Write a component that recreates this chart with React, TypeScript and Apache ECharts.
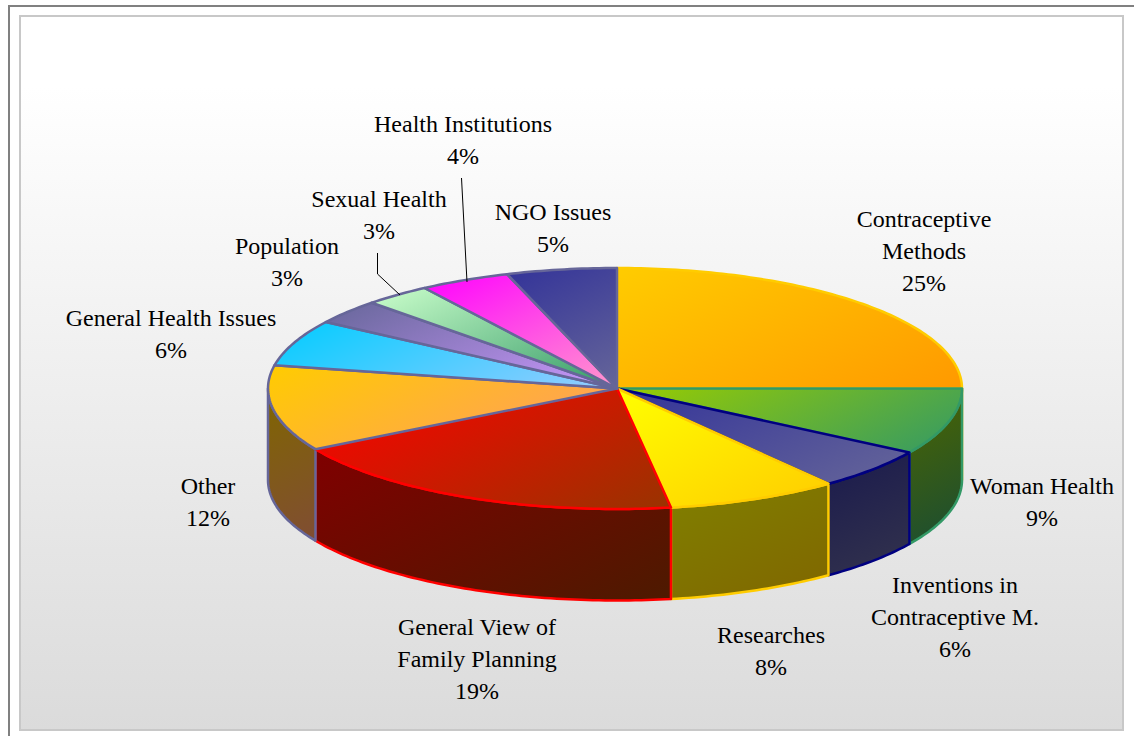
import React, { useEffect, useRef } from "react";
import * as echarts from "echarts";

const names = ["Contraceptive Methods", "Woman Health", "Inventions in Contraceptive M.", "Researches", "General View of Family Planning", "Other", "General Health Issues", "Population", "Sexual Health", "Health Institutions", "NGO Issues"];
const values = [25, 8.9, 5.6, 8.0, 19.1, 11.5, 6.2, 3.3, 3.1, 4.2, 5.1];
const labelLines = [["Contraceptive", "Methods"], ["Woman Health"], ["Inventions in", "Contraceptive M."], ["Researches"], ["General View of", "Family Planning"], ["Other"], ["General Health Issues"], ["Population"], ["Sexual Health"], ["Health Institutions"], ["NGO Issues"]];
const labelX = [924, 1042, 955, 771, 477, 208, 171, 287, 379, 463, 553];
const labelY = [219, 486, 585, 635, 627, 486, 318, 246, 199, 124, 212];
const colorFrom = ["#FFCC00", "#99CC00", "#333399", "#FFFF00", "#FF0000", "#FFCC00", "#00CCFF", "#666699", "#CCFFCC", "#FF00FF", "#333399"];
const colorTo = ["#FF9900", "#339966", "#666699", "#FFCC00", "#993300", "#FF9966", "#99CCFF", "#CC99FF", "#339966", "#FF99CC", "#666699"];
const strokes = ["#FFCC00", "#339966", "#000080", "#FFCC00", "#FF0000", "#666699", "#666699", "#666699", "#666699", "#666699", "#666699"];

const CX = 617, CY = 388.5, RX_RIGHT = 345, RX_LEFT = 349, RY = 120.5, DEPTH = 91.5;
const GRAD_SLOPE = 2;
const total = values.reduce((a, b) => a + b, 0);
const bounds = values.map((_, i) => {
  const before = values.slice(0, i).reduce((a, b) => a + b, 0);
  return [(before / total) * 360, ((before + values[i]) / total) * 360];
});
const rim = (deg: number, dy = 0): number[] => {
  const t = (deg * Math.PI) / 180;
  const s = Math.sin(t);
  return [CX + (s > 0 ? RX_RIGHT : RX_LEFT) * s, CY - RY * Math.cos(t) + dy];
};
const arc = (from: number, to: number, dy = 0): number[][] => {
  const pts: number[][] = [];
  const n = Math.max(1, Math.ceil(Math.abs(to - from)));
  for (let k = 0; k <= n; k++) pts.push(rim(from + ((to - from) * k) / n, dy));
  return pts;
};
const halve = (hex: string): string => {
  const v = parseInt(hex.slice(1), 16);
  const c = [(v >> 16) & 255, (v >> 8) & 255, v & 255].map((x) => Math.round(x * 0.5));
  return `rgb(${c[0]},${c[1]},${c[2]})`;
};
// A pixel-space gradient, steeper than 45 degrees, across the shape's bounding box.
const grad = (points: number[][], a: string, b: string) => {
  const xs = points.map((q) => q[0]);
  const ys = points.map((q) => q[1]);
  const x0 = Math.min(...xs), y0 = Math.min(...ys);
  const w = Math.max(...xs) - x0, h = Math.max(...ys) - y0;
  const reach = (w + GRAD_SLOPE * h) / (1 + GRAD_SLOPE * GRAD_SLOPE);
  return new echarts.graphic.LinearGradient(x0, y0, x0 + reach, y0 + GRAD_SLOPE * reach, [
    { offset: 0, color: a },
    { offset: 1, color: b },
  ], true);
};

export default function App() {
  const ref = useRef<HTMLDivElement>(null);
  useEffect(() => {
    const chart = echarts.init(ref.current!, undefined, { renderer: "svg" });
    const labels: any[] = [];
    names.forEach((_, i) => {
      [...labelLines[i], `${Math.round(values[i])}%`].forEach((line, k) => {
        labels.push({
          type: "text",
          x: labelX[i],
          y: labelY[i] + k * 32,
          z: 10,
          style: { text: line, align: "center", verticalAlign: "middle", fontFamily: "Liberation Serif", fontSize: 24, fill: "#000" },
        });
      });
    });
    chart.setOption({
      animation: false,
      graphic: [
        { type: "polyline", z: 0, shape: { points: [[9, 736], [9, 6], [1134, 6]] }, style: { stroke: "#808080", lineWidth: 2, fill: "none" } },
        {
          type: "rect", z: 0,
          shape: { x: 20, y: 16, width: 1103, height: 714 },
          style: {
            stroke: "#C8C8C8", lineWidth: 2,
            fill: new echarts.graphic.LinearGradient(0, 0, 0, 1, [
              { offset: 0, color: "#FFFFFF" },
              { offset: 0.1, color: "#FFFFFF" },
              { offset: 1, color: "#DBDBDB" },
            ]),
          },
        },
        { type: "polyline", z: 9, shape: { points: [[461.5, 178], [467, 282]] }, style: { stroke: "#000", lineWidth: 1, fill: "none" } },
        { type: "polyline", z: 9, shape: { points: [[377.5, 253], [377.5, 274], [400, 295]] }, style: { stroke: "#000", lineWidth: 1, fill: "none" } },
        ...labels,
      ],
      series: [
        {
          type: "custom", coordinateSystem: "none", silent: true, z: 2, clip: false,
          data: values,
          renderItem: (p: any) => {
            const i = p.dataIndex;
            const a = Math.max(bounds[i][0], 90);
            const b = Math.min(bounds[i][1], 270);
            if (a > b) return { type: "group", children: [] };
            const points = [...arc(a, b), ...arc(b, a, DEPTH)];
            return {
              type: "polygon",
              shape: { points },
              style: { fill: grad(points, halve(colorFrom[i]), halve(colorTo[i])), stroke: strokes[i], lineWidth: 2.5, lineJoin: "round" },
            };
          },
        },
        {
          type: "custom", coordinateSystem: "none", silent: true, z: 3, clip: false,
          data: values,
          renderItem: (p: any) => {
            const i = p.dataIndex;
            const points = [[CX, CY], ...arc(bounds[i][0], bounds[i][1])];
            return {
              type: "polygon",
              shape: { points },
              style: { fill: grad(points, colorFrom[i], colorTo[i]), stroke: strokes[i], lineWidth: 2.5, lineJoin: "round" },
            };
          },
        },
      ],
    });
    return () => chart.dispose();
  }, []);
  return <div ref={ref} style={{ position: "fixed", left: 0, top: 0, width: 1134, height: 736, background: "#fff" }} />;
}
